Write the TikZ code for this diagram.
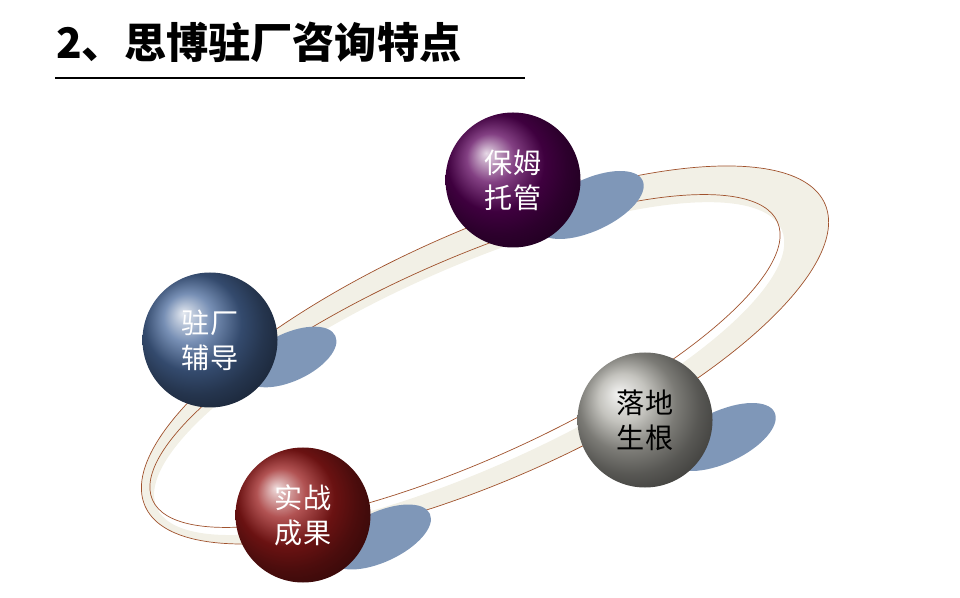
\documentclass[tikz,border=0pt]{standalone}
\usepackage{fontspec}
\setmainfont{Noto Sans CJK SC}
\usetikzlibrary{positioning}
\definecolor{ringfill}{HTML}{F2F0E6}
\definecolor{ringline}{HTML}{A0522D}
\definecolor{shade}{HTML}{7F97B8}
\definecolor{steel}{HTML}{4A6A9C}
\definecolor{stone}{HTML}{B0AFA8}
\tikzset{
  ball/.style={circle, minimum size=27mm, inner sep=0pt, text=white, align=center, font=\fontsize{16}{20}\selectfont},
  shadow/.style={fill=shade, draw=none},
}
\begin{document}
\begin{tikzpicture}[x=0.2mm, y=0.2mm]
  \useasboundingbox (0,0) rectangle (960,597);
  % title
  \node[anchor=west, font=\fontsize{24}{28}\selectfont\bfseries] (title) at (50,555) {2、思博驻厂咨询特点};
  \draw[line width=1.2pt] (55,519) -- (525,519);
  % ring
  \fill[ringfill, even odd rule, rotate around={24:(485,242)}]
    (485,242) ellipse (372 and 124) (465,236) ellipse (342 and 100);
  \draw[ringline, thin, rotate around={24:(485,242)}] (485,242) ellipse (372 and 124);
  \draw[ringline, thin, rotate around={24:(465,236)}] (465,236) ellipse (342 and 100);
  % shadows
  \fill[shadow, rotate around={25:(590,392)}] (590,392) ellipse (58 and 26);
  \fill[shadow, rotate around={25:(290,240)}] (290,240) ellipse (50 and 24);
  \fill[shadow, rotate around={25:(722,160)}] (722,160) ellipse (58 and 26);
  \fill[shadow, rotate around={25:(380,60)}] (380,60) ellipse (55 and 25);
  % balls
  \node[ball, ball color=violet!70!black] (care) at (513,417) {保姆\\托管};
  \node[ball, ball color=steel] (guide) at (210,257) {驻厂\\辅导};
  \node[ball, ball color=stone, text=black] (root) at (645,177) {落地\\生根};
  \node[ball, ball color=red!55!black!90!white] (result) at (303,82) {实战\\成果};
\end{tikzpicture}
\end{document}
